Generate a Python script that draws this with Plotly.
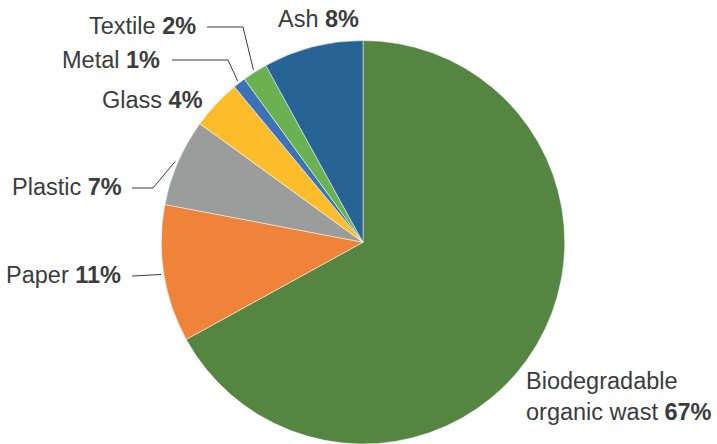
import math
import plotly.graph_objects as go

# Waste composition (percent of total)
categories = ["Biodegradable organic wast", "Paper", "Plastic", "Glass", "Metal", "Textile", "Ash"]
values = [67, 11, 7, 4, 1, 2, 8]
colors = ["#548641", "#f0833a", "#9b9d9c", "#fdbd2b", "#3d72b8", "#6bb152", "#276495"]

W, H = 717, 444
CX, CY, R = 363, 242.5, 202
TEXT_COLOR = "#3a3c3e"
FONT = "Liberation Sans"


def px(x):
    return x / W


def py(y):
    return 1 - y / H


def edge_point(idx, extra=2.5):
    """Point just outside the pie rim at the middle of slice idx (clockwise from 12 o'clock)."""
    total = sum(values)
    start = sum(values[:idx])
    mid = (start + values[idx] / 2) / total * 2 * math.pi
    r = R + extra
    return CX + r * math.sin(mid), CY - r * math.cos(mid)


fig = go.Figure(
    go.Pie(
        labels=categories,
        values=values,
        sort=False,
        direction="clockwise",
        rotation=0,
        textinfo="none",
        hoverinfo="label+percent",
        marker=dict(colors=colors, line=dict(color="white", width=0.5)),
        domain=dict(x=[px(CX - R), px(CX + R)], y=[max(0, py(CY + R)), py(CY - R)]),
        showlegend=False,
    )
)

# Label layout: (text anchor x, y, xanchor, leader elbow points)
label_layout = {
    "Ash": (318, 19, "center", None),
    "Textile": (198, 26, "right", [(207, 27), (243, 27)]),
    "Metal": (162, 60, "right", [(172, 60), (228, 60)]),
    "Glass": (205, 100, "right", None),
    "Plastic": (124, 187, "right", [(132, 188), (153, 188)]),
    "Paper": (123, 275, "right", [(132, 276)]),
    "Biodegradable organic wast": (524, 396, "left", None),
}

annotations = []
shapes = []
for i, (name, val) in enumerate(zip(categories, values)):
    x, y, anchor, elbow = label_layout[name]
    if name.startswith("Biodegradable"):
        text = f"Biodegradable<br>organic wast <b>{val}%</b>"
    else:
        text = f"{name} <b>{val}%</b>"
    annotations.append(
        dict(
            x=px(x), y=py(y), xref="paper", yref="paper",
            text=text, showarrow=False, xanchor=anchor, yanchor="middle",
            align="left", font=dict(family=FONT, size=23.5, color=TEXT_COLOR),
        )
    )
    if elbow:
        pts = elbow + [edge_point(i)]
        path = "M " + " L ".join(f"{px(a)},{py(b)}" for a, b in pts)
        shapes.append(
            dict(type="path", path=path, xref="paper", yref="paper",
                 line=dict(color="#3a3c3e", width=1))
        )

fig.update_layout(
    width=W, height=H,
    margin=dict(l=0, r=0, t=0, b=0),
    paper_bgcolor="white", plot_bgcolor="white",
    annotations=annotations, shapes=shapes,
)

fig.write_html("out.html")
